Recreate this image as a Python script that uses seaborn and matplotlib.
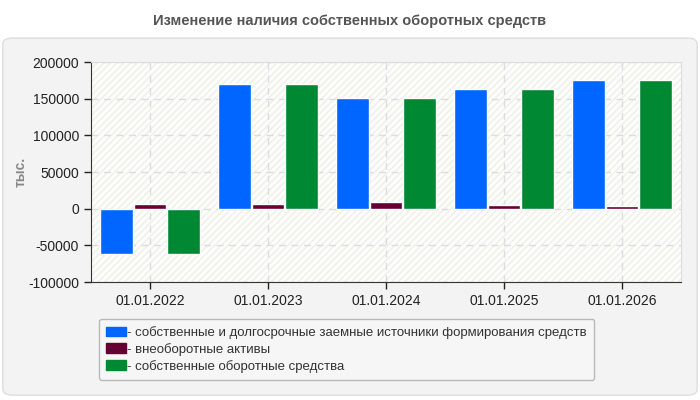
import numpy as np
import pandas as pd
import matplotlib
matplotlib.use("Agg")
import matplotlib.pyplot as plt
import seaborn as sns
from matplotlib.patches import FancyBboxPatch, Rectangle, Patch

dates = ["01.01.2022", "01.01.2023", "01.01.2024", "01.01.2025", "01.01.2026"]
series_names = [
    "собственные и долгосрочные заемные источники формирования средств",
    "внеоборотные активы",
    "собственные оборотные средства",
]
sources = [-62000, 170000, 150500, 163000, 176000]
noncurrent = [7000, 7000, 9700, 5600, 4200]
working_cap = [-62000, 170000, 150500, 163000, 176000]
colors = ["#0066FF", "#660033", "#008833"]

df = pd.DataFrame({
    "date": dates * 3,
    "series": [series_names[0]] * 5 + [series_names[1]] * 5 + [series_names[2]] * 5,
    "value": sources + noncurrent + working_cap,
})

sns.set_style("white")
plt.rcParams["font.family"] = ["Liberation Sans", "DejaVu Sans"]
plt.rcParams["axes.unicode_minus"] = False

fig = plt.figure(figsize=(7, 4), dpi=100)
fig.patch.set_facecolor("white")

# gray rounded panel behind chart
panel = FancyBboxPatch((0.004, 0.012), 0.992, 0.893, boxstyle="round,pad=0,rounding_size=0.015",
                       transform=fig.transFigure, facecolor="#F3F3F3", edgecolor="#DDDDDD",
                       linewidth=1, zorder=-10)
fig.patches.append(panel)

ax = fig.add_axes([0.13, 0.295, 0.843, 0.55])
ax.set_facecolor("#FDFDF9")
ax.add_patch(Rectangle((0, 0), 1, 1, transform=ax.transAxes, facecolor="none",
                       edgecolor="#EEEEEA", hatch="/////", linewidth=0, zorder=0))

sns.barplot(data=df, x="date", y="value", hue="series", hue_order=series_names,
            palette=colors, width=0.85, gap=0.02, saturation=1, ax=ax, legend=False, zorder=2)

ax.set_ylim(-100000, 200000)
ax.set_yticks(np.arange(-100000, 200001, 50000))
ax.set_xlim(-0.5, 4.5)
ax.grid(True, color="#DDDDDD", linestyle=(0, (5, 4)), linewidth=1, zorder=1)
ax.set_axisbelow(True)
for s in ["top", "right"]:
    ax.spines[s].set_color("#DDDDDD")
for s in ["left", "bottom"]:
    ax.spines[s].set_color("#333333")
ax.tick_params(axis="both", labelsize=10, colors="#222222", length=5, width=1,
               direction="out", left=True, bottom=True)
ax.set_xlabel("")
ax.set_ylabel("тыс.", fontsize=10, color="#888888", fontweight="bold")
ax.yaxis.set_label_coords(-0.108, 0.5)

fig.text(0.5, 0.948, "Изменение наличия собственных оборотных средств", ha="center", va="center",
         fontsize=10.5, fontweight="bold", color="#555555")

handles = [Patch(facecolor=c, edgecolor=c) for c in colors]
leg = fig.legend(handles, ["- " + n for n in series_names], loc="upper left",
                 bbox_to_anchor=(0.132, 0.22), fontsize=9.5, frameon=True, fancybox=True,
                 handlelength=1.5, handleheight=0.7, handletextpad=0.1, labelspacing=0.3,
                 borderpad=0.55, labelcolor="#333333")
leg.get_frame().set_facecolor("#F7F7F7")
leg.get_frame().set_edgecolor("#AAAAAA")

fig.savefig("out.png", dpi=100)
